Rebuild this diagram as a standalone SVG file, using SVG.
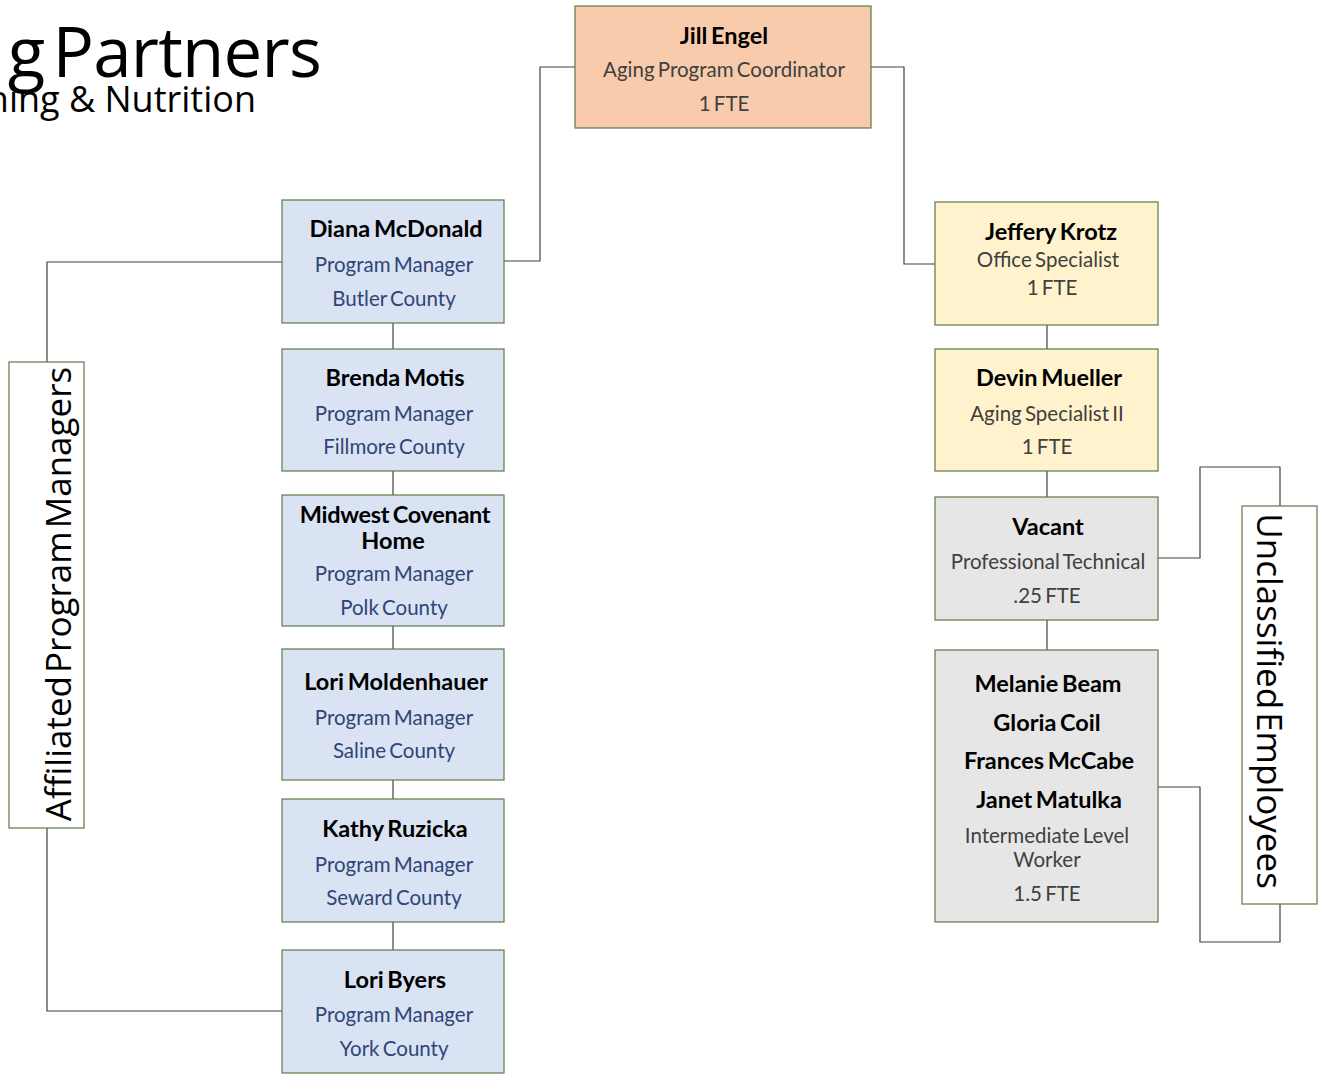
<svg xmlns="http://www.w3.org/2000/svg" width="1323" height="1074" viewBox="0 0 1323 1074">
  <style>
    .box { stroke: #5e7a45; stroke-width: 1.2; }
    .lead { fill: #f8cbad; }
    .pm { fill: #dae3f3; }
    .staff { fill: #fff2cc; }
    .uncl { fill: #e7e6e6; }
    .label { fill: #ffffff; }
    .name { font-family: Lato, "Open Sans", sans-serif; font-weight: bold; font-size: 23.5px; fill: #000; text-anchor: middle; dominant-baseline: central; word-spacing: -2px; }
    .sub { font-family: Lato, "Open Sans", sans-serif; font-size: 20.5px; text-anchor: middle; dominant-baseline: central; word-spacing: -2px; }
    .gray { fill: #404040; }
    .blue { fill: #2f4576; }
    .side { font-family: "Open Sans", "Noto Sans", sans-serif; font-size: 35px; fill: #000; text-anchor: middle; dominant-baseline: central; word-spacing: -6px; }
    .title { font-family: "Open Sans", "Noto Sans", sans-serif; fill: #000; text-anchor: end; }
    .conn { fill: none; stroke: #404040; stroke-width: 1.2; }
  </style>

  <!-- heading, running off the left edge -->
  <text class="title" x="321" y="77" font-size="69" letter-spacing="-0.8" word-spacing="-9">g Partners</text>
  <text class="title" x="256" y="112" font-size="36">ning &amp; Nutrition</text>

  <!-- connectors -->
  <g id="connectors">
    <polyline class="conn" points="575,67 540,67 540,261 504,261"/>
    <polyline class="conn" points="871,67 904,67 904,264 935,264"/>
    <line class="conn" x1="393" y1="323" x2="393" y2="349"/>
    <line class="conn" x1="393" y1="471" x2="393" y2="495"/>
    <line class="conn" x1="393" y1="626" x2="393" y2="649"/>
    <line class="conn" x1="393" y1="780" x2="393" y2="799"/>
    <line class="conn" x1="393" y1="922" x2="393" y2="950"/>
    <line class="conn" x1="1047" y1="325" x2="1047" y2="349"/>
    <line class="conn" x1="1047" y1="471" x2="1047" y2="497"/>
    <line class="conn" x1="1047" y1="620" x2="1047" y2="650"/>
    <polyline class="conn" points="282,262 47,262 47,362"/>
    <polyline class="conn" points="47,828 47,1011 282,1011"/>
    <polyline class="conn" points="1158,558 1200,558 1200,467 1280,467 1280,506"/>
    <polyline class="conn" points="1158,787 1200,787 1200,942 1280,942 1280,904"/>
  </g>

  <!-- coordinator -->
  <g id="jill-engel">
    <rect class="box lead" x="575" y="6" width="296" height="122"/>
    <text class="name" x="724" y="35">Jill Engel</text>
    <text class="sub gray" x="724" y="69">Aging Program Coordinator</text>
    <text class="sub gray" x="724" y="103">1 FTE</text>
  </g>

  <!-- program managers -->
  <g id="diana-mcdonald">
    <rect class="box pm" x="282" y="200" width="222" height="123"/>
    <text class="name" x="396" y="228">Diana McDonald</text>
    <text class="sub blue" x="394" y="264">Program Manager</text>
    <text class="sub blue" x="394" y="298">Butler County</text>
  </g>
  <g id="brenda-motis">
    <rect class="box pm" x="282" y="349" width="222" height="122"/>
    <text class="name" x="395" y="377">Brenda Motis</text>
    <text class="sub blue" x="394" y="413">Program Manager</text>
    <text class="sub blue" x="394" y="446">Fillmore County</text>
  </g>
  <g id="midwest-covenant-home">
    <rect class="box pm" x="282" y="495" width="222" height="131"/>
    <text class="name" x="395" y="514" letter-spacing="-0.3">Midwest Covenant</text>
    <text class="name" x="393" y="540">Home</text>
    <text class="sub blue" x="394" y="573">Program Manager</text>
    <text class="sub blue" x="394" y="607">Polk County</text>
  </g>
  <g id="lori-moldenhauer">
    <rect class="box pm" x="282" y="649" width="222" height="131"/>
    <text class="name" x="396" y="681">Lori Moldenhauer</text>
    <text class="sub blue" x="394" y="717">Program Manager</text>
    <text class="sub blue" x="394" y="750">Saline County</text>
  </g>
  <g id="kathy-ruzicka">
    <rect class="box pm" x="282" y="799" width="222" height="123"/>
    <text class="name" x="395" y="828">Kathy Ruzicka</text>
    <text class="sub blue" x="394" y="864">Program Manager</text>
    <text class="sub blue" x="394" y="897">Seward County</text>
  </g>
  <g id="lori-byers">
    <rect class="box pm" x="282" y="950" width="222" height="123"/>
    <text class="name" x="395" y="979">Lori Byers</text>
    <text class="sub blue" x="394" y="1014">Program Manager</text>
    <text class="sub blue" x="394" y="1048">York County</text>
  </g>

  <!-- staff -->
  <g id="jeffery-krotz">
    <rect class="box staff" x="935" y="202" width="223" height="123"/>
    <text class="name" x="1051" y="231">Jeffery Krotz</text>
    <text class="sub gray" x="1048" y="259">Office Specialist</text>
    <text class="sub gray" x="1052" y="287">1 FTE</text>
  </g>
  <g id="devin-mueller">
    <rect class="box staff" x="935" y="349" width="223" height="122"/>
    <text class="name" x="1049" y="377">Devin Mueller</text>
    <text class="sub gray" x="1047" y="413">Aging Specialist II</text>
    <text class="sub gray" x="1047" y="446">1 FTE</text>
  </g>
  <g id="vacant">
    <rect class="box uncl" x="935" y="497" width="223" height="123"/>
    <text class="name" x="1048" y="526">Vacant</text>
    <text class="sub gray" x="1048" y="561">Professional Technical</text>
    <text class="sub gray" x="1047" y="595">.25 FTE</text>
  </g>
  <g id="intermediate-level-workers">
    <rect class="box uncl" x="935" y="650" width="223" height="272"/>
    <text class="name" x="1048" y="683">Melanie Beam</text>
    <text class="name" x="1047" y="722">Gloria Coil</text>
    <text class="name" x="1049" y="760">Frances McCabe</text>
    <text class="name" x="1049" y="799">Janet Matulka</text>
    <text class="sub gray" x="1047" y="835">Intermediate Level</text>
    <text class="sub gray" x="1047" y="859">Worker</text>
    <text class="sub gray" x="1047" y="893">1.5 FTE</text>
  </g>

  <!-- group labels -->
  <g id="affiliated-program-managers">
    <rect class="box label" x="9" y="362" width="75" height="466"/>
    <text class="side" transform="translate(57,594) rotate(-90)">Affiliated Program Managers</text>
  </g>
  <g id="unclassified-employees">
    <rect class="box label" x="1242" y="506" width="75" height="398"/>
    <text class="side" transform="translate(1270,701) rotate(90)">Unclassified Employees</text>
  </g>
</svg>
